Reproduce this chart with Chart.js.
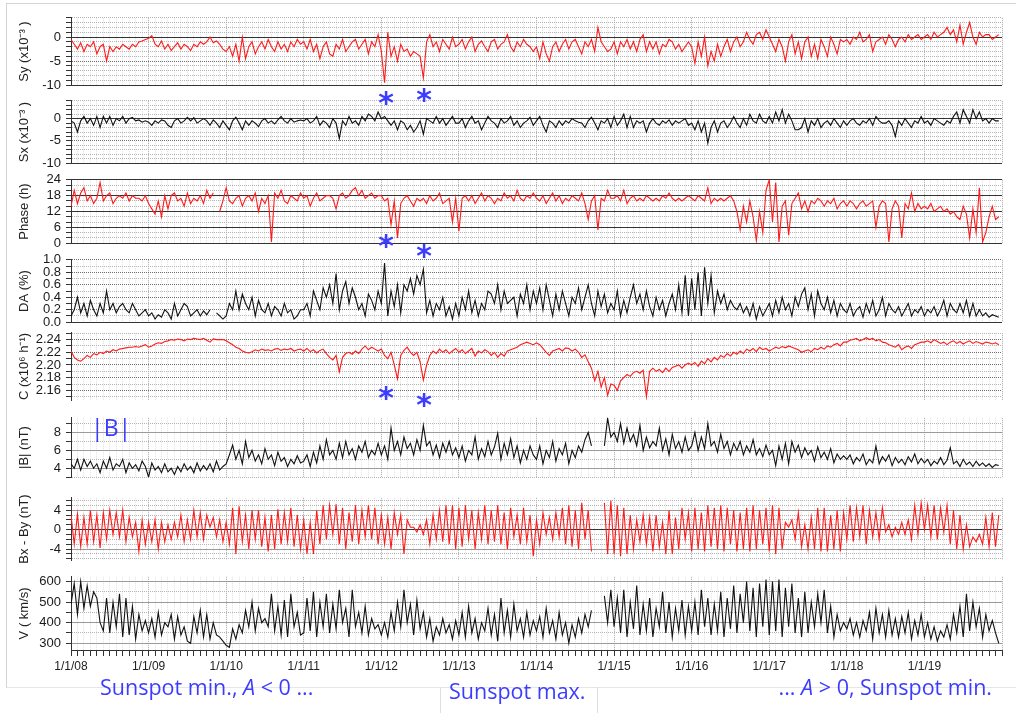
<!DOCTYPE html>
<html>
<head>
<meta charset="utf-8">
<script src="https://cdn.jsdelivr.net/npm/chart.js@4.4.0/dist/chart.umd.min.js"></script>
<style>
  body { margin: 0; background: #fff; width: 1016px; height: 713px; position: relative; overflow: hidden; }
  .frame { position: absolute; left: 6px; top: 3px; width: 1020px; height: 683px; border-left: 1px solid #d4d4d4; border-top: 1px solid #d4d4d4; border-bottom: 1px solid #e6e6e6; }
  .cell { position: absolute; top: 687px; height: 26px; width: 0; border-left: 1px solid #dedede; }
  canvas { position: absolute; left: 0; }
  .note { position: absolute; color: #3c3cff; font-family: "Open Sans", sans-serif; font-size: 21.5px; white-space: nowrap; line-height: 24px; }
  .star { position: absolute; color: #3c3cff; font-family: "DejaVu Sans", sans-serif; font-weight: bold; font-size: 30px; line-height: 30px; transform: translate(-50%, -34%); }
</style>
</head>
<body>
<div class="frame"></div>
<div class="cell" style="left:440px"></div>
<div class="cell" style="left:597px"></div>
<div id="panels"></div>
<div class="note" style="left:91px;top:414px;font-size:23px;line-height:26px">|B|</div>
<div class="note" style="left:100px;top:675px">Sunspot min., <i>A</i> &lt; 0 ...</div>
<div class="note" style="left:449px;top:679px">Sunspot max.</div>
<div class="note" style="right:24px;top:675px">... <i>A</i> &gt; 0, Sunspot min.</div>
<script>
// time axis: 2008 - 2020, two samples per month
const startYear = 2008, endYear = 2020, perYear = 24;

// Sy (x10^-3)
const sy = [
  -0.5,-1.5,-2.5,-1.2,-3,-1.5,-2,-1,-3.5,-2,-1.5,-5,-2,-3,-2,-2.5,-1.5,-2,-2.5,-1.5,-2,-1,-0.8,-0.5,
  -0.3,0.3,-1.5,-2,-0.8,-2.5,-1.5,-2.8,-2,-1.2,-2.5,-1.5,-2,-2.8,-1.5,-2,-1,-1.5,-1,0,-1.2,-0.8,-1.5,-2.5,
  -3,-2,-4,-1.5,-5,0,-4.5,-2,-1,-3.5,-2,-1,-2.5,-0.5,-2,-3,-1,-2.5,-1.5,-3,-1,-2,-0.5,-1.5,
  -1,-2.5,-0.5,-3,-1.5,-4.5,-2,-1,-3.5,-4,-1.5,-2.5,-0.5,-3,-2,-1,-0.5,-2.5,-1.5,-0.5,-3.5,-1,-2,0.5,
  -3,-9.5,1,-4,-2,-5,-1.5,-3,-2.5,-4,-3,-3.5,-4,-8.5,-1,0.5,-2,-1,-3,-0.5,-1.5,-2.5,0,-2,
  -1.5,-0.5,-2.5,-1,0,-3,-1.5,-0.8,-2,-3,-1,-0.5,-2.5,-1.5,-1,0.5,-2,-3,-1,-2,-0.5,-1.5,-2,-3,
  -2,-4.5,-1,-3.5,-5,-2,-1,-3,-1.5,-0.5,-2.5,-1,-0.5,-2,-3.5,-1,-2,-0.5,-3,2,-1,-2,-3,-2.5,
  -1,-3.5,-1,-2,-0.5,-2.5,-1,-3,-0.5,0.5,-3,-1,-2.5,-1,-3.5,-1.5,-2,-0.5,-1,-2.5,-1.5,-3,-2,-1,
  -2,-5.5,-1,-4,0,-6,-3,-5,-1.5,-4,-2,-0.5,-3,-1,0,-2,-1,1,-0.5,-1.5,0.5,1,-0.5,1.5,
  0,-1.5,-3,-0.5,-2,-5,-1,0.5,-3.5,-1,-4.5,-1,0,-4,-1.5,-4.5,-0.5,-2,-4,0,-1.5,-3.5,-0.5,-1,
  -0.5,-1.5,0,-0.5,1,-1,-0.5,0.5,-3,-1,-0.5,0,-1.5,0.5,-0.5,-2,-0.5,0,-1,0.5,-0.5,0,0.5,-0.5,
  0,0.5,-0.5,1,0,0.5,1,2,0.5,1.5,-1,2.5,-1.5,1,3,0,-1.5,1,0,0.5,0.5,-0.5,0,0.5
];

// Sx (x10^-3)
const sx = [
  -0.5,-1,-3,-0.5,0.5,-1,0,-1.5,0.5,-2,0.5,-1,0.5,-1.5,0,-0.5,0.5,-1,0,0.3,-0.5,-0.3,-0.8,-0.5,
  -0.8,-1.5,-0.5,-1,-0.3,-0.5,-1.5,-2,-0.5,0,-1,-0.5,0.3,-0.5,0.2,-1,-0.5,0,-0.5,-1.5,-0.3,-1,-2,-0.5,
  -1.5,-2.5,-0.5,0.3,-1,-2.5,-0.5,-1.5,-0.5,-1,-1.8,-0.5,0,-1,-0.5,-1.2,-0.3,0.5,-0.5,-1,0,-0.8,-0.5,-0.3,
  -0.5,0,-1,-0.5,0.5,-1.5,-0.5,-1,-2,0,-1,-4.5,-0.5,-1.5,0.5,-1,-0.5,-1.5,0.5,-0.5,1,0.5,-0.5,1.5,
  0,0.5,-0.5,-1.5,-0.5,-2.5,-0.5,-1,-2.5,-1.5,-3,-2,-0.5,-3.5,0,-0.5,-1,0.5,-1,0,-1.5,-0.5,0.5,-1,
  -1,0,-2,-0.5,0.5,-1,-0.5,-2.5,-1,0.5,-0.5,-1,-2,0,-1,-0.5,0.5,-1.5,-0.5,-2,-1,-0.5,0.3,-1.5,
  -0.5,0.5,-1.5,-3,-0.5,-1,-2,-0.5,-1.5,-0.5,-1,0,-0.5,-0.8,-1,-2,-0.5,0.3,-1,-2.5,-0.5,-1,0,-2,
  0.5,-1.5,-0.5,1,-2,0.5,-2,-0.5,-1,-0.5,-3,-1,0,-1,-1.5,-0.5,-1,-0.3,-1.5,-0.5,-1,-0.5,0,-1.5,
  -1,-2.5,-0.5,-3,-1,-5.5,-2,-0.5,-3,-1,-0.5,-2,-1,0.5,-1,-2,0,-1.5,1,-0.5,-1,1,-0.5,-1,
  0.5,-1,1.5,-0.5,2,-1,1,-0.5,-2.5,-2.5,-2,0,-3,-0.5,-1.5,0,-2,-1,-0.5,-1.5,0,-1,-2,-0.5,
  -1.5,-0.5,0,-1,-1.5,-0.5,-1,0,-1.5,0.5,-0.5,-1,-1,-0.5,-1.5,-4,-0.5,-1.5,0,-1,-2,-0.5,-1,0.5,
  -1,-0.5,-1.5,0,-0.5,-1,-1.5,-0.5,-1,0.5,1.5,-1,2,0.5,-1,2,0,1.5,-0.5,0,-1,0,-0.5,-0.5
];

// Phase (h)
const phase = [
  14,20,15,19,21,16,18,15,17,23,16,18,19,15,17,18,17,19,16,18,17,17,16,18,
  15,13,11,16,10,18,13,18,19,16,17,14,19,15,17,16,18,15,20,17,19,null,12,16,
  21,16,15,17,18,14,17,18,16,19,12,17,15,18,0.5,19,17,20,16,15,18,17,16,19,
  17,18,14,17,19,16,17,18,18,17,13,18,19,17,18,20,21,18,20,17,18,19,17,18,
  18,16,17,7,16,2,15,17,18,16,14,17,16,17,15,18,16,17,19,15,16,17,8,17,
  4.5,17,18,16,18,15,17,19,16,18,17,15,17,16,19,17,18,16,20,17,16,18,17,19,
  17,16,18,15,17,19,16,18,15,17,16,18,17,16,19,15,9,16,18,5,17,16,20,17,
  17,18,16,20,15,17,18,16,17,16,18,17,16,17,16,18,17,19,17,16,17,16,17,18,
  17,16,18,17,16,21,15,17,16,17,16,17,18,16,12,5,14,8,16,10,1,12,4,20,
  24,8,23,0.5,14,16,3,15,17,19,13,16,12,16,15,17,16,14,16,15,17,13,15,16,
  14,16,15,13,15,16,14,15,16,6,14,16,15,0.5,13,16,14,2,15,13,19,12,15,13,
  14,13,15,12,13,14,12,13,11,12,10,9,14,11,2,13,4,21,0.5,4,10,14,9,10
];

// DA (%)
const da = [
  0.1,0.2,0.4,0.15,0.3,0.1,0.35,0.2,0.1,0.3,0.15,0.5,0.2,0.3,0.15,0.25,0.3,0.2,0.15,0.3,0.2,0.1,0.15,0.2,
  0.1,0.15,0.05,0.12,0.08,0.2,0.15,0.05,0.3,0.1,0.2,0.3,0.25,0.1,0.15,0.2,0.1,0.18,0.12,0.2,null,0.15,0.1,0.05,
  0.1,0.3,0.2,0.5,0.2,0.45,0.3,0.2,0.4,0.1,0.35,0.2,0.15,0.3,0.1,0.25,0.2,0.1,0.3,0.15,0.2,0.05,0.1,0.2,
  0.2,0.3,0.1,0.5,0.35,0.2,0.55,0.4,0.6,0.3,0.78,0.2,0.5,0.65,0.3,0.55,0.4,0.2,0.3,0.1,0.45,0.35,0.2,0.5,
  0.3,0.95,0.1,0.5,0.25,0.6,0.15,0.6,0.5,0.7,0.45,0.75,0.6,0.85,0.15,0.35,0.1,0.3,0.2,0.4,0.1,0.25,0.05,0.3,
  0.1,0.4,0.2,0.5,0.15,0.35,0.1,0.3,0.2,0.5,0.45,0.3,0.6,0.2,0.5,0.3,0.35,0.4,0.1,0.45,0.3,0.6,0.2,0.5,
  0.3,0.55,0.2,0.6,0.35,0.1,0.45,0.2,0.5,0.3,0.1,0.4,0.3,0.55,0.2,0.4,0.6,0.3,0.1,0.5,0.25,0.45,0.15,0.3,
  0.2,0.5,0.1,0.35,0.15,0.4,0.6,0.3,0.45,0.2,0.5,0.25,0.1,0.4,0.2,0.35,0.1,0.3,0.45,0.2,0.6,0.15,0.75,0.1,
  0.7,0.2,0.8,0.1,0.88,0.3,0.75,0.15,0.5,0.3,0.45,0.2,0.35,0.25,0.2,0.3,0.15,0.25,0.1,0.3,0.05,0.25,0.1,0.2,
  0.3,0.1,0.35,0.15,0.4,0.2,0.3,0.1,0.4,0.25,0.45,0.55,0.2,0.45,0.1,0.5,0.3,0.2,0.4,0.15,0.35,0.1,0.3,0.2,
  0.15,0.3,0.1,0.2,0.25,0.08,0.3,0.15,0.35,0.1,0.2,0.4,0.1,0.3,0.2,0.15,0.25,0.1,0.2,0.3,0.1,0.2,0.15,0.25,
  0.1,0.2,0.15,0.25,0.1,0.2,0.35,0.1,0.3,0.2,0.15,0.3,0.15,0.35,0.1,0.3,0.1,0.2,0.1,0.15,0.08,0.12,0.1,0.08
];

// C (x10^6 h^-1)
const countRate = [
  2.222,2.212,2.208,2.206,2.21,2.215,2.212,2.218,2.216,2.22,2.218,2.222,2.22,2.224,2.222,2.225,2.226,2.227,2.228,2.228,2.229,2.228,2.23,2.232,
  2.228,2.23,2.233,2.235,2.234,2.237,2.238,2.24,2.239,2.241,2.24,2.238,2.241,2.24,2.242,2.241,2.24,2.242,2.239,2.236,2.241,2.24,2.24,2.24,
  2.238,2.235,2.232,2.228,2.226,2.222,2.22,2.219,2.221,2.224,2.222,2.225,2.223,2.224,2.222,2.225,2.226,2.223,2.225,2.224,2.226,2.222,2.224,2.225,
  2.222,2.226,2.221,2.224,2.219,2.223,2.225,2.218,2.212,2.208,2.215,2.189,2.212,2.218,2.22,2.217,2.222,2.218,2.225,2.23,2.224,2.228,2.225,2.222,
  2.225,2.215,2.21,2.22,2.2,2.178,2.215,2.223,2.228,2.22,2.215,2.22,2.205,2.176,2.2,2.215,2.222,2.218,2.225,2.22,2.224,2.218,2.222,2.226,
  2.22,2.224,2.218,2.222,2.226,2.214,2.222,2.219,2.224,2.221,2.215,2.22,2.212,2.218,2.214,2.222,2.224,2.226,2.228,2.232,2.234,2.236,2.234,2.232,
  2.235,2.232,2.226,2.22,2.215,2.222,2.224,2.226,2.222,2.227,2.226,2.222,2.225,2.22,2.212,2.216,2.205,2.195,2.175,2.19,2.165,2.18,2.152,2.17,
  2.168,2.16,2.175,2.18,2.185,2.182,2.188,2.19,2.187,2.192,2.15,2.19,2.195,2.19,2.193,2.188,2.195,2.19,2.196,2.198,2.2,2.195,2.2,2.203,
  2.2,2.204,2.198,2.206,2.202,2.21,2.205,2.212,2.208,2.215,2.212,2.218,2.214,2.22,2.217,2.222,2.218,2.225,2.222,2.226,2.221,2.228,2.224,2.226,
  2.222,2.225,2.228,2.226,2.229,2.227,2.23,2.228,2.226,2.224,2.22,2.222,2.224,2.221,2.226,2.224,2.228,2.225,2.23,2.228,2.232,2.234,2.23,2.236,
  2.236,2.239,2.24,2.242,2.238,2.24,2.243,2.24,2.242,2.238,2.24,2.236,2.235,2.232,2.23,2.228,2.232,2.224,2.228,2.23,2.226,2.232,2.234,2.236,
  2.236,2.238,2.235,2.24,2.237,2.234,2.236,2.232,2.236,2.238,2.234,2.237,2.233,2.236,2.238,2.234,2.237,2.235,2.233,2.236,2.235,2.233,2.235,2.232
];

// |B| (nT)
const bMag = [
  4.5,4,5,3.8,5,4.2,4.8,4,4.5,3.5,4.8,4,5.2,3.8,4.5,4.2,5,3.5,4.6,4,4.4,3.7,4.8,4.2,
  3,4.6,3.8,4.2,3.5,4.5,3.6,4,3.3,4.2,3.6,4.5,3.8,4.2,3.5,4.6,3.7,4.3,3.8,4.5,3.6,4.8,3.8,4.2,
  4.5,5.5,6.6,5,6,4.5,7,5.2,6,4.8,5.5,4.5,6.2,5,5.5,4.3,5.8,4.8,5.2,4.2,5,4.5,5.4,4.6,
  4.8,5.5,4.2,5.8,4.6,6.5,5,7.2,5.5,6,5,6.8,5.2,7,5.5,6.2,5,6.5,5.8,7,5.2,6,5.5,6.8,
  5.5,6.5,5,8.5,6,7,5.5,7.5,6.2,6.8,5.5,7.2,6,8.8,6.5,7,5.5,6.6,5.2,6.8,5.8,7,5.5,6.3,
  5.2,6.5,4.8,6,5.5,7.5,5,6.2,5.3,7,5.5,6.4,7.9,5,6.8,5.5,7.3,5.2,6.5,4.6,6,5,6.5,5.5,
  5,6.5,4.5,6,5.2,7,4.8,6.2,5.5,6.8,4.5,6,5.2,6.5,5.8,7.2,8,6.5,null,null,null,6.5,9.6,7.5,
  8,7,9,6.8,8.5,7,7.8,6.5,8.8,6,7.5,6.3,7,6.5,8.5,6,7.3,5.5,7.8,6.2,7,5.8,7.5,6,
  6.5,8,6,7.5,6.2,9,6.5,7,5.8,7.8,6.2,7,5.5,6.8,6,7,5.5,6.5,5.8,7.2,5.5,6.2,5.3,6.6,
  5.5,6,4.3,6.5,5,6.8,4.5,7,5.8,6.6,5.2,6.3,5.5,6,4.8,6.4,5.2,5.8,5,6.2,4.6,5.6,5,5.4,
  5,5.5,4.5,5.2,4.8,5.6,4.4,5,4.6,6.5,4.5,5.3,4.8,5.5,4.3,5.2,4.6,5,4.4,5.3,4.7,5.6,4.5,5.1,
  4.6,5,4.3,4.8,4.5,5.2,4.4,4.9,6.3,4.5,4.8,4.2,5,4.4,4.7,4.2,4.8,4.3,4.6,4.2,4.5,4.1,4.4,4.3
];

// Bx - By (nT)
const bxBy = [
  3,-3,3.2,-3.5,2.5,-3,4,-2.5,3,-3.8,3.5,-2,4,-1,3.5,-1.5,4,-2.5,2.5,-1.5,1.5,-4.5,2,-3,
  1.5,-2.5,2,-4,1.5,-2.5,1,-2,1.5,-1.5,3,-2.5,2,-2,4,-1.5,3.5,-2,3,0.5,2.5,-1.5,2,-2.5,
  1.5,-3,4.5,-5,4.8,-2.5,3,-4,4,-2,4,-3.5,2.5,-4.5,3,-4,4.2,-3,3.5,-2.5,4.5,-3.5,3,-4,
  2,-5,1.5,-5,4,-3,5,-2,5,-1,5.2,-3,4.5,-4,3.5,-2.5,5,-3,4,-1.5,5,-2,4.5,-3,
  3,-3,2.5,-4,3.5,-1,3,-5,2,0.5,0.5,-0.5,1,-1,2,-3,3,-2,4,-2.5,5,-3,5,-4,
  4.5,-3.5,5,-2,4,-4,3.5,-2,5,-3,4,-2.5,5,-3,3.5,-4,4.5,-1.5,3,-3,4.5,-2.5,3,-5.5,
  2,-3,3.5,-1,2.5,-2,3.5,-1.5,4.5,-3,5,-3.5,4,-4,5.5,-2,4,-4.5,null,null,null,5.5,-5,6,
  -5,5,-5.5,4.5,-5,3,-4,2,-2.5,3,-3,2.5,-4.5,3,-3.5,1.5,-5,4,-5,2.5,-4,4.5,-2,3.5,
  -4.5,4.5,-4,3.5,-4.5,5,-3.5,4.5,-4,5,-4.5,4.5,-3,4,-4.5,3.5,-4,4.5,-4.5,5,-4,4,-3,4.5,
  -4.5,5,-5,4.5,-4,1.5,0.5,2,-2,3.5,-3.5,1,-4,2.5,-4,4.5,-4.5,4.5,-4.5,3,-4,4,-4.5,3.5,
  -2,5,-2.5,4.5,-1.5,5,-3,4,-1.5,3.5,-2,4.5,-0.5,1,-1.5,0.5,-1,1.5,-1,2,-2,5,-1,5.5,
  0,5,-1.5,5,-2,4.5,-0.5,5,-3,4,-4,3,-4,1,-3.5,-1.5,-2.5,-1,-3,2.5,-3.5,3.5,-3.5,3
];

// V (km/s)
const speed = [
  490,590,440,600,470,580,480,550,520,400,360,520,350,500,380,540,330,520,340,480,320,440,360,410,
  350,420,330,450,340,400,380,440,320,430,340,380,310,300,430,350,460,330,440,320,400,340,330,310,
  290,280,370,320,390,350,460,380,500,360,470,400,420,380,540,360,480,340,510,330,540,380,450,340,
  350,520,360,550,330,500,380,540,350,490,370,560,400,470,330,560,380,450,350,480,340,420,370,390,
  340,400,330,450,360,500,380,560,400,490,340,510,370,450,330,420,310,380,340,420,350,390,320,410,
  340,450,330,480,350,420,320,400,360,470,340,440,310,520,350,460,330,490,360,420,330,450,340,410,
  360,430,330,470,350,410,320,450,340,400,300,390,330,420,350,440,380,460,null,null,null,530,400,560,
  380,520,350,560,330,500,370,580,340,490,360,520,330,470,380,550,350,500,330,470,360,510,340,480,
  360,500,340,560,380,520,340,490,360,550,330,520,370,580,350,540,400,600,360,570,330,590,380,610,
  340,600,360,610,330,570,380,590,350,520,330,550,350,500,380,540,400,560,350,480,330,440,360,400,
  370,420,340,400,330,410,360,450,320,470,350,440,330,460,340,420,330,430,350,450,320,410,340,440,
  330,400,320,380,310,360,330,390,320,440,350,480,330,540,360,500,380,470,330,440,360,410,350,300
];

// dates of the two marked events
const eventDates = [2012.06, 2012.55];

const RED = '#ff1a1a', BLACK = '#111';
const FONT = '"Liberation Sans", Arial, sans-serif';

// one panel per quantity: pixel band, value range, grid
const panels = [
  { values: sy, color: RED, top: 13, bottom: 90, min: -10, max: 4, step: 1, labelStep: 5, dec: 0,
    title: 'Sy (x10\u207B\u00B3 )', solidDark: [0, -10], solidGray: [], dotDark: [-5] },
  { values: sx, color: BLACK, top: 96, bottom: 168, min: -10, max: 4, step: 1, labelStep: 5, dec: 0,
    title: 'Sx (x10\u207B\u00B3 )', solidDark: [0, -10], solidGray: [], dotDark: [-5] },
  { values: phase, color: RED, top: 175, bottom: 248, min: 0, max: 24, step: 2, labelStep: 6, dec: 0,
    title: 'Phase (h)', solidDark: [0, 6, 12, 18, 24], solidGray: [], dotDark: [] },
  { values: da, color: BLACK, top: 255, bottom: 327, min: 0, max: 1, step: 0.1, labelStep: 0.2, dec: 1,
    title: 'DA (%)', solidDark: [0], solidGray: [], dotDark: [0.2, 0.4, 0.6, 0.8, 1] },
  { values: countRate, color: RED, top: 328, bottom: 405, min: 2.1445, max: 2.2507, step: 0.01, labelStep: 0.02, dec: 2,
    title: 'C (x10\u2076 h\u207B\u00B9)', solidDark: [], solidGray: [], dotDark: [2.16, 2.18, 2.2, 2.22, 2.24] },
  { values: bMag, color: BLACK, top: 413, bottom: 482, min: 3, max: 9.65, step: 1, labelStep: 2, dec: 0,
    title: '|B| (nT)', solidDark: [], solidGray: [4, 6, 8], dotDark: [] },
  { values: bxBy, color: RED, top: 493, bottom: 565, min: -6.3, max: 6.55, step: 1, labelStep: 4, dec: 0,
    title: 'Bx - By (nT)', solidDark: [0], solidGray: [-4, 4], dotDark: [] },
  { values: speed, color: BLACK, top: 572, bottom: 650, min: 267, max: 623, step: 50, labelStep: 100, dec: 0,
    title: 'V ( km/s)', solidDark: [], solidGray: [300, 400, 500, 600], dotDark: [] }
];

const near = (list, v) => list.some(a => Math.abs(a - v) < 1e-6);
const isMultiple = (v, s) => Math.abs(v / s - Math.round(v / s)) < 1e-6;

function tickValues(p) {
  const out = [];
  for (let i = Math.ceil(p.min / p.step - 1e-9); i * p.step <= p.max + 1e-9; i++) {
    out.push(Math.round(i * p.step * 1e6) / 1e6);
  }
  return out;
}

function lineStyle(p, v) {
  if (near(p.solidDark, v)) return { c: '#333', d: [] };
  if (near(p.solidGray, v)) return { c: '#9a9a9a', d: [] };
  if (near(p.dotDark, v)) return { c: '#6e6e6e', d: [1, 1] };
  return { c: '#b4b4b4', d: [1, 1] };
}

const monthTicks = [];
for (let m = 0; m <= (endYear - startYear) * 12; m++) monthTicks.push(startYear + m / 12);
const isYear = v => isMultiple(v - startYear, 1);

const pad = 8;
const holder = document.getElementById('panels');
let lastChart = null;

panels.forEach(function (p, k) {
  const last = k === panels.length - 1;
  const axisH = last ? 30 : 0;
  const cv = document.createElement('canvas');
  const h = p.bottom - p.top + pad + (last ? axisH : pad);
  cv.width = 1016; cv.height = h;
  cv.style.top = (p.top - pad) + 'px';
  cv.style.width = '1016px'; cv.style.height = h + 'px';
  holder.appendChild(cv);

  const points = p.values.map((v, i) => ({ x: startYear + i / perYear, y: v }));

  lastChart = new Chart(cv, {
    type: 'line',
    data: { datasets: [{ data: points, borderColor: p.color, borderWidth: 1.1, pointRadius: 0, tension: 0, spanGaps: false }] },
    options: {
      responsive: false, animation: false, events: [], devicePixelRatio: 1,
      layout: { padding: { top: pad, bottom: last ? 0 : pad, left: 0, right: 14 } },
      plugins: { legend: { display: false }, tooltip: { enabled: false } },
      scales: {
        x: {
          type: 'linear', min: startYear, max: endYear,
          afterBuildTicks: ax => { ax.ticks = monthTicks.map(v => ({ value: v })); },
          afterFit: ax => { ax.height = axisH; },
          grid: {
            color: c => (c.tick && isYear(c.tick.value)) ? '#a8a8a8' : '#e2e2e2',
            drawTicks: last, tickLength: 6, tickColor: '#333'
          },
          border: { display: last, color: '#333', dash: c => c.tick ? [1, 1] : [] },
          ticks: {
            display: last, autoSkip: false, maxRotation: 0, padding: 3, color: '#222',
            font: { family: FONT, size: 12 },
            callback: v => (isYear(v) && v < endYear - 0.5) ? '1/1/' + String(Math.round(v)).slice(2) : ''
          }
        },
        y: {
          min: p.min, max: p.max,
          afterBuildTicks: ax => { ax.ticks = tickValues(p).map(v => ({ value: v })); },
          afterFit: ax => { ax.width = 71; },
          grid: { color: c => c.tick ? lineStyle(p, c.tick.value).c : '#333', tickColor: '#333', tickLength: 5 },
          border: { color: '#333', dash: c => c.tick ? lineStyle(p, c.tick.value).d : [] },
          ticks: {
            autoSkip: false, padding: 5, color: '#1a1a1a', font: { family: FONT, size: 13 },
            callback: v => isMultiple(v, p.labelStep) ? Number(v).toFixed(p.dec) : ''
          },
          title: { display: true, text: p.title, color: '#222', font: { family: FONT, size: 13 }, padding: { top: 17, bottom: 0 } }
        }
      }
    }
  });
});

// blue asterisks marking the two events, under Sy, Phase and C
const starRows = [[98, 95], [241, 251], [393, 400]];
starRows.forEach(function (row) {
  eventDates.forEach(function (d, j) {
    const s = document.createElement('div');
    s.className = 'star';
    s.textContent = '*';
    s.style.left = lastChart.scales.x.getPixelForValue(d) + 'px';
    s.style.top = row[j] + 'px';
    document.body.appendChild(s);
  });
});
</script>
</body>
</html>
